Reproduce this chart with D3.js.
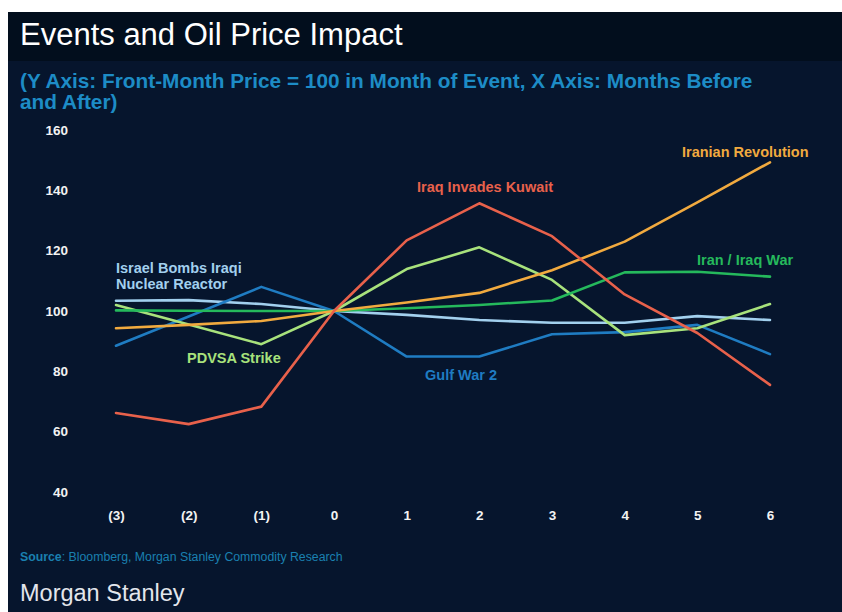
<!DOCTYPE html>
<html>
<head>
<meta charset="utf-8">
<script src="https://cdn.jsdelivr.net/npm/d3@7"></script>
<style>
  html, body { margin: 0; padding: 0; background: #ffffff; }
  svg { display: block; }
  text { font-family: "Liberation Sans", Arial, Helvetica, sans-serif; }
</style>
</head>
<body>
<svg id="chart" width="842" height="612"></svg>
<script>
// ---- Data ----
const months = [-3, -2, -1, 0, 1, 2, 3, 4, 5, 6];
const yTicks = [40, 60, 80, 100, 120, 140, 160];

const israelBombs   = [103.4, 103.6, 102.3, 100, 98.7, 97.0, 96.1, 96.1, 98.3, 97.0];
const gulfWar2      = [88.5, 98.2, 108.0, 100, 84.9, 84.9, 92.3, 93.0, 95.4, 85.7];
const pdvsaStrike   = [102.0, 95.5, 89.0, 100, 113.9, 121.1, 110.3, 92.0, 94.3, 102.3];
const iranIraqWar   = [100.2, 100.1, 100.0, 100, 100.9, 102.0, 103.5, 112.8, 113.0, 111.4];
const iranianRev    = [94.3, 95.4, 96.7, 100, 102.8, 106.0, 113.5, 123.0, 136.0, 149.3];
const iraqKuwait    = [66.2, 62.5, 68.3, 100, 123.4, 135.7, 124.8, 105.5, 92.7, 75.5];

const seriesNames  = ["Israel Bombs Iraqi Nuclear Reactor", "Gulf War 2", "PDVSA Strike", "Iran / Iraq War", "Iranian Revolution", "Iraq Invades Kuwait"];
const seriesValues = [israelBombs, gulfWar2, pdvsaStrike, iranIraqWar, iranianRev, iraqKuwait];
const seriesColors = ["#a2d0ee", "#1f7cc2", "#a8e27c", "#25b95c", "#f1aa3f", "#e8614b"];
const labelLines   = [["Israel Bombs Iraqi", "Nuclear Reactor"], ["Gulf War 2"], ["PDVSA Strike"], ["Iran / Iraq War"], ["Iranian Revolution"], ["Iraq Invades Kuwait"]];
const labelPos     = [[116, 273], [425, 380], [187, 363], [697, 265], [682, 157], [417, 192]];

// ---- Chart ----
const svg = d3.select("#chart");

// background panels
svg.append("rect").attr("x", 8).attr("y", 12).attr("width", 834).attr("height", 600).attr("fill", "#06152d");
svg.append("rect").attr("x", 8).attr("y", 12).attr("width", 834).attr("height", 49).attr("fill", "#020e1d");

// title
svg.append("text").attr("x", 20).attr("y", 45)
  .attr("font-size", 31).attr("fill", "#ffffff")
  .text("Events and Oil Price Impact");

// subtitle
const sub = svg.append("text").attr("font-size", 20.8).attr("font-weight", "bold").attr("fill", "#1d8cc6");
sub.append("tspan").attr("x", 20).attr("y", 88).text("(Y Axis: Front-Month Price = 100 in Month of Event, X Axis: Months Before");
sub.append("tspan").attr("x", 20).attr("y", 109).text("and After)");

const x = d3.scaleLinear().domain([-3, 6]).range([116, 770]);
const y = d3.scaleLinear().domain([40, 160]).range([492, 130]);

// y axis
const yAxis = svg.append("g").attr("transform", "translate(75,0)")
  .call(d3.axisLeft(y).tickValues(yTicks).tickSize(0).tickPadding(7));
yAxis.select(".domain").remove();
yAxis.selectAll("text").attr("fill", "#f2f2f2").attr("font-size", 13.5).attr("font-weight", "bold")
  .style("font-family", "'Liberation Sans', Arial, sans-serif");

// x axis
const xAxis = svg.append("g").attr("transform", "translate(0,500)")
  .call(d3.axisBottom(x).tickValues(months).tickSize(0).tickPadding(10)
    .tickFormat(d => d < 0 ? "(" + (-d) + ")" : String(d)));
xAxis.select(".domain").remove();
xAxis.selectAll("text").attr("fill", "#f2f2f2").attr("font-size", 13.5).attr("font-weight", "bold")
  .style("font-family", "'Liberation Sans', Arial, sans-serif");

// lines
const line = d3.line().x((d, i) => x(months[i])).y(d => y(d));
seriesValues.forEach((vals, k) => {
  svg.append("path").datum(vals)
    .attr("d", line)
    .attr("fill", "none")
    .attr("stroke", seriesColors[k])
    .attr("stroke-width", 2.6)
    .attr("stroke-linejoin", "round")
    .attr("stroke-linecap", "round");
});

// series labels
labelLines.forEach((lines, k) => {
  const t = svg.append("text").attr("font-size", 14.5).attr("font-weight", "bold").attr("fill", seriesColors[k]);
  lines.forEach((ln, j) => {
    t.append("tspan").attr("x", labelPos[k][0]).attr("y", labelPos[k][1] + j * 16).text(ln);
  });
});

// source
const src = svg.append("text").attr("x", 20).attr("y", 561).attr("font-size", 12.3).attr("fill", "#1a80b0");
src.append("tspan").attr("font-weight", "bold").text("Source");
src.append("tspan").text(": Bloomberg, Morgan Stanley Commodity Research");

// logo text
svg.append("text").attr("x", 20).attr("y", 601).attr("font-size", 23.5).attr("fill", "#e3e6ec")
  .text("Morgan Stanley");
</script>
</body>
</html>
